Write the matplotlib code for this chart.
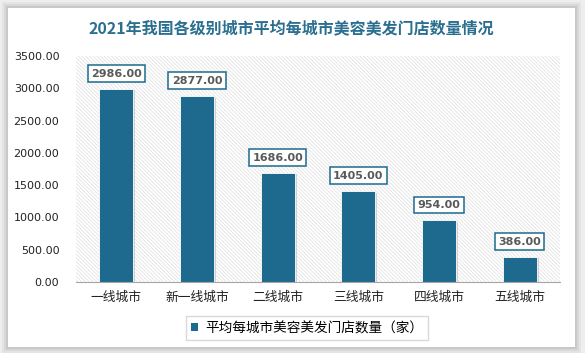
import matplotlib.pyplot as plt
from matplotlib.patches import Rectangle

plt.rcParams['font.family'] = ['Noto Sans CJK SC', 'DejaVu Sans']
plt.rcParams['hatch.linewidth'] = 0.5

# -----------------------------
# Data
# -----------------------------
categories = ["一线城市", "新一线城市", "二线城市", "三线城市", "四线城市", "五线城市"]
values = [2986.00, 2877.00, 1686.00, 1405.00, 954.00, 386.00]
yticks = [0, 500, 1000, 1500, 2000, 2500, 3000, 3500]

title = "2021年我国各级别城市平均每城市美容美发门店数量情况"
series_name = "平均每城市美容美发门店数量（家）"

bar_color = "#1d6a8e"
title_color = "#2a6f8f"

W, H = 585, 353

# -----------------------------
# Figure & card background
# -----------------------------
fig = plt.figure(figsize=(W / 100, H / 100), dpi=100)
fig.patch.set_facecolor("#eeeeee")

# soft shadow around the card
for k, a in [(6, 0.04), (4, 0.05), (2, 0.07)]:
    fig.patches.append(Rectangle(((8 - k) / W, (6 - k) / H),
                                 (567 + 2 * k) / W, (339 + 2 * k) / H,
                                 transform=fig.transFigure, facecolor="black",
                                 alpha=a, edgecolor="none", zorder=-11))
card = Rectangle((8 / W, 6 / H), 567 / W, 339 / H,
                 transform=fig.transFigure, facecolor="white",
                 edgecolor="none", zorder=-10)
fig.patches.append(card)

ax = fig.add_axes([76 / W, 1 - 282 / H, 484 / W, 226 / H])
ax.set_facecolor("none")
ax.set_zorder(1)

# hatched plot area
x = list(range(len(categories)))
ax.set_xlim(-0.5, len(categories) - 0.5)
ax.set_ylim(0, 3500)
bg = Rectangle((-0.5, 0), len(categories), 3500, facecolor="white",
               edgecolor="#dedede", hatch="\\" * 9, linewidth=0, zorder=0)
ax.add_patch(bg)

# shadows then bars
ax.bar([i + 0.025 for i in x], values, width=0.42, color="#c8c8c8",
       zorder=1, bottom=-20, alpha=0.8)
ax.bar(x, values, width=0.42, color=bar_color, edgecolor="white",
       linewidth=0.6, zorder=2)

for i, v in enumerate(values):
    ax.text(i, v + 240, f"{v:.2f}", ha="center", va="center",
            fontsize=8, fontweight="bold", color="#595959",
            family="DejaVu Sans", zorder=4,
            bbox=dict(boxstyle="square,pad=0.3", facecolor="white",
                      edgecolor=bar_color, linewidth=1.1))

# -----------------------------
# Styling
# -----------------------------
ax.set_xticks(x)
ax.set_xticklabels(categories, fontsize=9.2, color="#222222")
ax.set_yticks(yticks)
ax.set_yticklabels([f"{t:.2f}" for t in yticks], fontsize=8,
                   color="#222222", family="DejaVu Sans")
ax.tick_params(axis="y", length=0, pad=12)
ax.tick_params(axis="x", length=0, pad=6)
for s in ["top", "right", "left"]:
    ax.spines[s].set_visible(False)
ax.spines["bottom"].set_color("#a6a6a6")
ax.spines["bottom"].set_zorder(5)

fig.text(291 / W, 1 - 28 / H, title, ha="center", va="center",
         fontsize=11.5, fontweight="bold", color=title_color)

handle = Rectangle((0, 0), 1, 1, facecolor=bar_color)
leg = fig.legend([handle], [series_name], loc="center",
                 bbox_to_anchor=(307 / W, 1 - 328 / H), frameon=True,
                 fontsize=9.8, handlelength=0.55, handleheight=0.55,
                 handletextpad=0.5, fancybox=False, borderpad=0.35)
leg.get_frame().set_edgecolor("#d0d0d0")
leg.get_frame().set_linewidth(1.0)

fig.savefig("out.png", dpi=100, facecolor=fig.get_facecolor())
